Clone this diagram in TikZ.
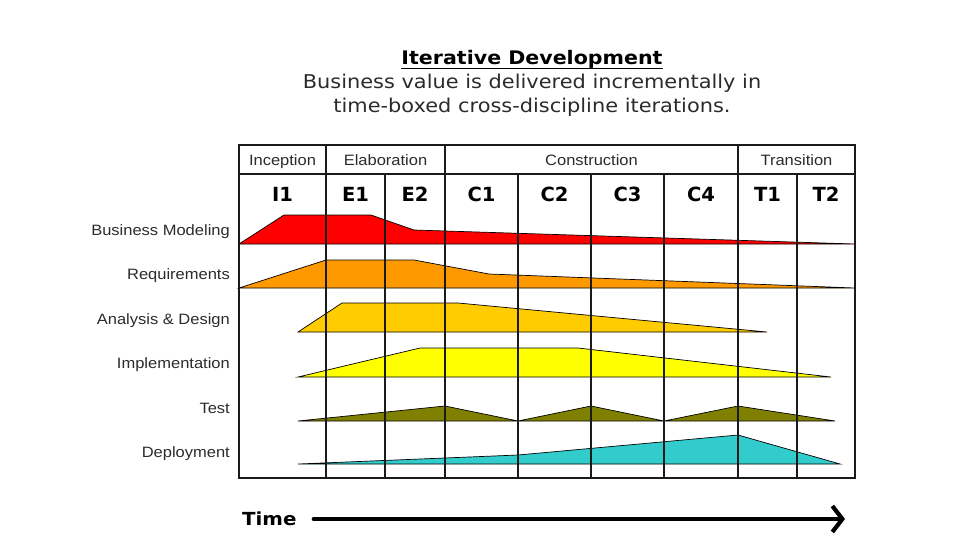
\documentclass[tikz,border=0pt]{standalone}
\usepackage{fontspec}
\setmainfont{Liberation Sans}
\newfontfamily\wideserif[FakeStretch=1.1]{DejaVu Sans}
\newfontfamily\plainserif{DejaVu Sans}
\newfontfamily\widearial[FakeStretch=1.1]{Liberation Sans}
\definecolor{PhaseRed}{HTML}{FF0000}
\definecolor{PhaseOrange}{HTML}{FF9900}
\definecolor{PhaseGold}{HTML}{FFCC00}
\definecolor{PhaseYellow}{HTML}{FFFF00}
\definecolor{PhaseOlive}{HTML}{808000}
\definecolor{PhaseCyan}{HTML}{33CCCC}
\definecolor{GridDark}{HTML}{1A1A1A}
\definecolor{LabelGray}{HTML}{2B2B2B}
\usetikzlibrary{arrows.meta,positioning}
\tikzset{
  gridline/.style={draw=GridDark, line width=1.4pt},
  band/.style={draw=black, line width=0.7pt, line join=miter},
  discipline/.style={anchor=base east, inner sep=0pt, text=LabelGray, font=\widearial\fontsize{15}{18}\selectfont},
  phase/.style={anchor=base, inner sep=0pt, text=LabelGray, font=\widearial\fontsize{15}{18}\selectfont},
  iter/.style={anchor=base, inner sep=0pt, font=\plainserif\bfseries\fontsize{19.5}{22}\selectfont},
  headline/.style={anchor=base, inner sep=0pt, font=\wideserif\bfseries\fontsize{18.7}{24}\selectfont},
  subline/.style={anchor=base, inner sep=0pt, text=LabelGray, font=\wideserif\fontsize{19}{24}\selectfont},
  timelabel/.style={inner sep=0pt, anchor=west, font=\wideserif\bfseries\fontsize{18}{20}\selectfont},
  timearrow/.style={-{Straight Barb[length=10pt,width=26pt]}, line width=4.2pt, line cap=round}
}

\begin{document}
\begin{tikzpicture}[x=1pt, y=-1pt]
  \useasboundingbox (0,0) rectangle (957,552);

  % title block
  \node[headline] (title) at (532,64.5) {Iterative Development};
  \draw[line width=1.6pt] ([yshift=-4pt]title.base west) -- ([yshift=-4pt]title.base east);
  \node[subline] (subline1) at (532,88.5) {Business value is delivered incrementally in};
  \node[subline] (subline2) at (532,112) {time-boxed cross-discipline iterations.};

  % discipline bands
  \draw[band, fill=PhaseRed] (239,244) -- (284,215) -- (371,215) -- (414,230) -- (855,244) -- cycle;
  \draw[band, fill=PhaseOrange] (239,288) -- (326,260) -- (414,260) -- (489,274) -- (855,288) -- cycle;
  \draw[band, fill=PhaseGold] (298,332) -- (342,303) -- (458,303) -- (767,332) -- cycle;
  \draw[band, fill=PhaseYellow] (298,377) -- (420,348) -- (578,348) -- (831,377) -- cycle;
  \draw[band, fill=PhaseOlive] (298,421) -- (445,406) -- (518,421) -- (591,406) -- (664,421) -- (738,406) -- (835,421) -- cycle;
  \draw[band, fill=PhaseCyan] (298,464) -- (518,455) -- (738,435) -- (840,464) -- cycle;

  % table grid
  \draw[gridline] (239,145) rectangle (855,478);
  \draw[gridline] (239,174) -- (855,174);
  \foreach \x in {326,445,738}
    \draw[gridline] (\x,145) -- (\x,478);
  \foreach \x in {385,518,591,664,797}
    \draw[gridline] (\x,174) -- (\x,478);

  % phases and iterations
  \node[phase] (inception) at (282.5,165) {Inception};
  \node[phase] (elaboration) at (385.5,165) {Elaboration};
  \node[phase] (construction) at (591.5,165) {Construction};
  \node[phase] (transition) at (796.5,165) {Transition};
  \foreach \name/\x in {I1/282.5,E1/355.5,E2/415,C1/481.5,C2/554.5,C3/627.5,C4/701,T1/767.5,T2/826}
    \node[iter] (\name) at (\x,201) {\name};

  % disciplines
  \node[discipline] (bizmodel) at (230,235) {Business Modeling};
  \node[discipline] (requirements) at (230,279) {Requirements};
  \node[discipline] (analysis) at (230,324) {Analysis \& Design};
  \node[discipline] (implementation) at (230,368) {Implementation};
  \node[discipline] (test) at (230,413) {Test};
  \node[discipline] (deployment) at (230,457) {Deployment};

  % time axis
  \node[timelabel] (time) at (242,519) {Time};
  \coordinate (timeend) at (845,519);
  \draw[timearrow, shorten <=17pt] (time.east) -- (timeend);
\end{tikzpicture}
\end{document}
